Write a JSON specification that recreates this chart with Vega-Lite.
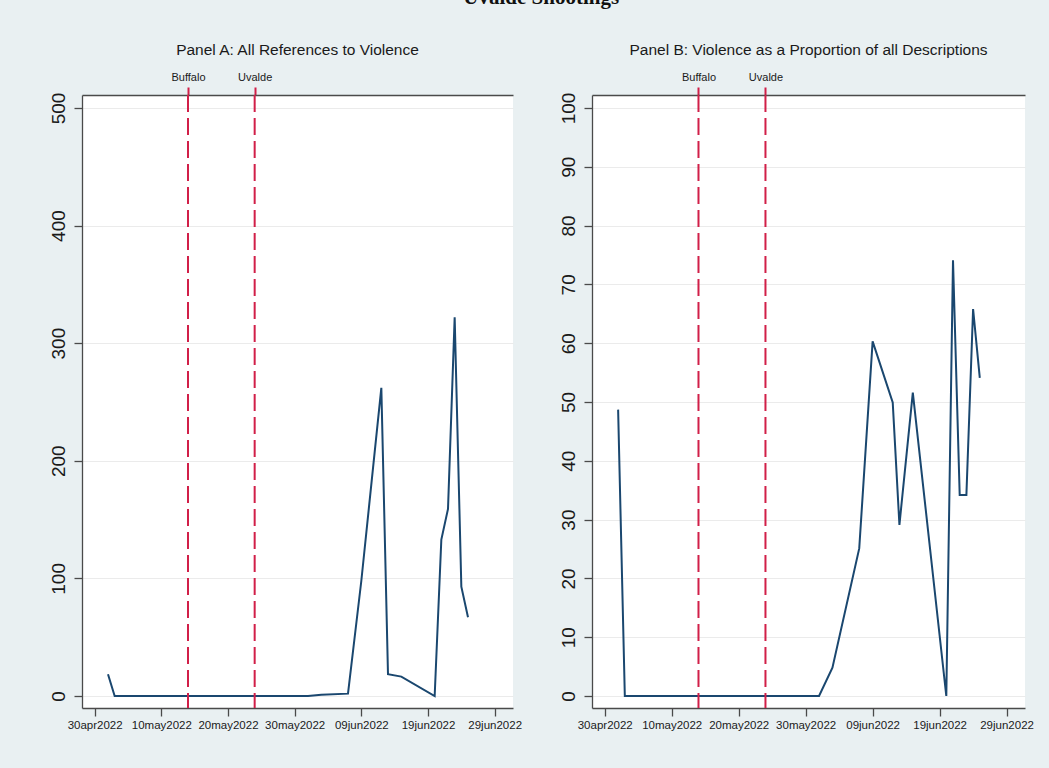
{
  "$schema": "https://vega.github.io/schema/vega-lite/v6.json",
  "background": "#e9f0f2",
  "padding": {"left": 49, "top": -14, "right": 24, "bottom": 37},
  "title": {"text": "Uvalde Shootings", "font": "Liberation Serif", "fontSize": 21, "fontWeight": "bold", "color": "#111", "anchor": "middle", "offset": 35},
  "spacing": 37,
  "config": {
    "font": "Liberation Sans",
    "view": {"fill": "white", "stroke": null},
    "axis": {"domainColor": "#4a4a4a", "tickColor": "#4a4a4a", "labelColor": "#1a1a1a", "gridColor": "#ebebeb", "domainWidth": 1.3, "tickWidth": 1.3}
  },
  "datasets": {
    "series": [
      {"date": "2022-05-02", "refs": 18.5, "share": 48.7},
      {"date": "2022-05-03", "refs": 0, "share": 0},
      {"date": "2022-06-01", "refs": 0, "share": 0},
      {"date": "2022-06-03", "refs": 1, "share": 4.8},
      {"date": "2022-06-07", "refs": 2, "share": 25.1},
      {"date": "2022-06-09", "refs": 98, "share": 60.3},
      {"date": "2022-06-12", "refs": 262, "share": 49.9},
      {"date": "2022-06-13", "refs": 18.5, "share": 29.1},
      {"date": "2022-06-15", "refs": 16.5, "share": 51.6},
      {"date": "2022-06-20", "refs": 0, "share": 0},
      {"date": "2022-06-21", "refs": 133, "share": 74.1},
      {"date": "2022-06-22", "refs": 159, "share": 34.2},
      {"date": "2022-06-23", "refs": 322, "share": 34.2},
      {"date": "2022-06-24", "refs": 93, "share": 65.8},
      {"date": "2022-06-25", "refs": 67, "share": 54.1}
    ],
    "events": [
      {"date": "2022-05-14", "event": "Buffalo"},
      {"date": "2022-05-24", "event": "Uvalde"}
    ]
  },
  "hconcat": [
    {
      "width": 431,
      "height": 613,
      "title": {"text": "Panel A: All References to Violence", "fontSize": 15.5, "fontWeight": "normal", "color": "#1a1a1a", "offset": 13},
      "layer": [
        {
          "data": {"name": "series"},
          "mark": {"type": "line", "color": "#1a476f", "strokeWidth": 2},
          "encoding": {
            "x": {
              "field": "date", "type": "temporal",
              "scale": {"type": "utc", "nice": false, "domain": [{"year": 2022, "month": 4, "date": 28, "hours": 2, "minutes": 24, "utc": true}, {"year": 2022, "month": 7, "date": 1, "hours": 18, "utc": true}]},
              "axis": {
                "orient": "bottom", "title": null, "grid": false, "tickSize": 8, "labelFontSize": 11.5, "labelPadding": 3, "labelFlush": false, "labelOverlap": false,
                "values": [
                  {"year": 2022, "month": 4, "date": 30, "utc": true},
                  {"year": 2022, "month": 5, "date": 10, "utc": true},
                  {"year": 2022, "month": 5, "date": 20, "utc": true},
                  {"year": 2022, "month": 5, "date": 30, "utc": true},
                  {"year": 2022, "month": 6, "date": 9, "utc": true},
                  {"year": 2022, "month": 6, "date": 19, "utc": true},
                  {"year": 2022, "month": 6, "date": 29, "utc": true}
                ],
                "labelExpr": "lower(utcFormat(datum.value, '%d%b%Y'))"
              }
            },
            "y": {
              "field": "refs", "type": "quantitative",
              "scale": {"domain": [-10.2, 511], "nice": false, "zero": false},
              "axis": {"title": null, "values": [0, 100, 200, 300, 400, 500], "grid": true, "labelAngle": -90, "labelAlign": "center", "labelBaseline": "bottom", "labelFontSize": 19, "tickSize": 8, "labelPadding": 6}
            }
          }
        },
        {
          "data": {"name": "events"},
          "mark": {"type": "rule", "color": "#d11f48", "strokeWidth": 2, "strokeDash": [17, 6]},
          "encoding": {
            "x": {
              "field": "date", "type": "temporal",
              "axis": {
                "orient": "top", "title": null, "grid": false, "tickSize": 8, "tickColor": "#d11f48", "tickWidth": 2, "labelFontSize": 11, "labelPadding": 5,
                "values": [{"year": 2022, "month": 5, "date": 14, "utc": true}, {"year": 2022, "month": 5, "date": 24, "utc": true}],
                "labelExpr": "utcdate(datum.value) == 14 ? 'Buffalo' : 'Uvalde'"
              }
            }
          }
        }
      ],
      "resolve": {"axis": {"x": "independent"}}
    },
    {
      "width": 433,
      "height": 613,
      "title": {"text": "Panel B: Violence as a Proportion of all Descriptions", "fontSize": 15.5, "fontWeight": "normal", "color": "#1a1a1a", "offset": 13},
      "layer": [
        {
          "data": {"name": "series"},
          "mark": {"type": "line", "color": "#1a476f", "strokeWidth": 2},
          "encoding": {
            "x": {
              "field": "date", "type": "temporal",
              "scale": {"type": "utc", "nice": false, "domain": [{"year": 2022, "month": 4, "date": 28, "hours": 2, "minutes": 24, "utc": true}, {"year": 2022, "month": 7, "date": 1, "hours": 18, "utc": true}]},
              "axis": {
                "orient": "bottom", "title": null, "grid": false, "tickSize": 8, "labelFontSize": 11.5, "labelPadding": 3, "labelFlush": false, "labelOverlap": false,
                "values": [
                  {"year": 2022, "month": 4, "date": 30, "utc": true},
                  {"year": 2022, "month": 5, "date": 10, "utc": true},
                  {"year": 2022, "month": 5, "date": 20, "utc": true},
                  {"year": 2022, "month": 5, "date": 30, "utc": true},
                  {"year": 2022, "month": 6, "date": 9, "utc": true},
                  {"year": 2022, "month": 6, "date": 19, "utc": true},
                  {"year": 2022, "month": 6, "date": 29, "utc": true}
                ],
                "labelExpr": "lower(utcFormat(datum.value, '%d%b%Y'))"
              }
            },
            "y": {
              "field": "share", "type": "quantitative",
              "scale": {"domain": [-2.04, 102.2], "nice": false, "zero": false},
              "axis": {"title": null, "values": [0, 10, 20, 30, 40, 50, 60, 70, 80, 90, 100], "grid": true, "labelAngle": -90, "labelAlign": "center", "labelBaseline": "bottom", "labelFontSize": 19, "tickSize": 8, "labelPadding": 6}
            }
          }
        },
        {
          "data": {"name": "events"},
          "mark": {"type": "rule", "color": "#d11f48", "strokeWidth": 2, "strokeDash": [17, 6]},
          "encoding": {
            "x": {
              "field": "date", "type": "temporal",
              "axis": {
                "orient": "top", "title": null, "grid": false, "tickSize": 8, "tickColor": "#d11f48", "tickWidth": 2, "labelFontSize": 11, "labelPadding": 5,
                "values": [{"year": 2022, "month": 5, "date": 14, "utc": true}, {"year": 2022, "month": 5, "date": 24, "utc": true}],
                "labelExpr": "utcdate(datum.value) == 14 ? 'Buffalo' : 'Uvalde'"
              }
            }
          }
        }
      ],
      "resolve": {"axis": {"x": "independent"}}
    }
  ]
}
